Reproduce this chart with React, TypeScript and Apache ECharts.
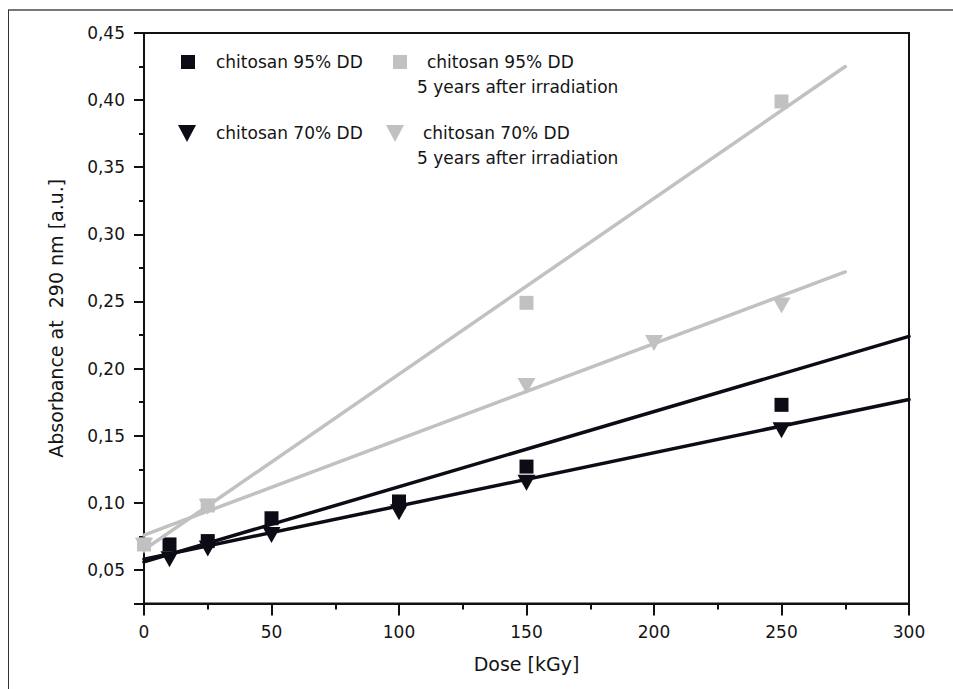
import React, { useEffect, useRef } from "react";
import * as echarts from "echarts";

// Measured points
const doseFresh = [10, 25, 50, 100, 150, 250];
const abs95 = [0.069, 0.0715, 0.0885, 0.101, 0.127, 0.173];
const abs70 = [0.058, 0.066, 0.076, 0.093, 0.115, 0.154];
const doseAged95 = [0, 25, 150, 250];
const abs95aged = [0.069, 0.098, 0.249, 0.399];
const doseAged70 = [0, 25, 150, 200, 250];
const abs70aged = [0.068, 0.097, 0.187, 0.219, 0.247];

// Linear fit end points
const fitDose = [0, 300];
const fit95 = [0.056, 0.224];
const fit70 = [0.058, 0.177];
const fitDoseAged = [0, 275];
const fit95aged = [0.065, 0.425];
const fit70aged = [0.076, 0.272];

const xTicks = [0, 50, 100, 150, 200, 250, 300];

const BLACK = "#0c0c16";
const GRAY = "#c1c2c0";
const TEXT = "#141414";
const FONT = "DejaVu Sans";

const zip = (xs: number[], ys: number[]) => xs.map((x, i) => [x, ys[i]]);

export default function App() {
  const ref = useRef<HTMLDivElement>(null);
  useEffect(() => {
    if (!ref.current) return;
    const chart = echarts.init(ref.current, undefined, { renderer: "svg" });
    const legendText = (x: number, y: number, text: string) => ({
      type: "text",
      x,
      y,
      style: { text, fill: TEXT, font: `17px "${FONT}"`, textVerticalAlign: "middle" },
    });
    const scatterStyle = (color: string) => ({ color, opacity: 1 });
    chart.setOption({
      animation: false,
      backgroundColor: "#ffffff",
      grid: {
        left: 144,
        right: 44,
        top: 33,
        bottom: 85.5,
        show: true,
        borderColor: "#111",
        borderWidth: 2,
        backgroundColor: "transparent",
      },
      xAxis: {
        type: "value",
        min: xTicks[0],
        max: xTicks[xTicks.length - 1],
        interval: 50,
        name: "Dose [kGy]",
        nameLocation: "middle",
        nameGap: 51,
        nameTextStyle: { fontFamily: FONT, fontSize: 19, color: TEXT },
        axisLine: { show: true, lineStyle: { color: "#111", width: 2 } },
        axisTick: { show: true, inside: false, length: 12, lineStyle: { color: "#111", width: 2 } },
        minorTick: { show: true, splitNumber: 2, length: 6, lineStyle: { color: "#111", width: 2 } },
        axisLabel: { margin: 20, fontFamily: FONT, fontSize: 17, color: TEXT },
        splitLine: { show: false },
        minorSplitLine: { show: false },
      },
      yAxis: [
        {
          type: "value",
          min: 0.025,
          max: 0.45,
          splitNumber: 9,
          name: "Absorbance at  290 nm [a.u.]",
          nameLocation: "middle",
          nameGap: 79,
          nameTextStyle: { fontFamily: FONT, fontSize: 19, color: TEXT },
          axisLine: { show: true, lineStyle: { color: "#111", width: 2 } },
          axisTick: { show: true, inside: false, length: 10, lineStyle: { color: "#111", width: 2 } },
          axisLabel: {
            margin: 19,
            fontFamily: FONT,
            fontSize: 17,
            color: TEXT,
            formatter: (v: number) => {
              const k = Math.round(v / 0.05);
              if (Math.abs(v - k * 0.05) > 1e-6) return "";
              return v.toFixed(2).replace(".", ",");
            },
          },
          splitLine: { show: false },
        },
        {
          type: "value",
          min: 0.025,
          max: 0.45,
          interval: 0.025,
          position: "left",
          offset: 0,
          axisLine: { show: false },
          axisTick: { show: true, inside: false, length: 5, lineStyle: { color: "#111", width: 2 } },
          axisLabel: { show: false },
          splitLine: { show: false },
        },
      ],
      series: [
        {
          name: "chitosan 95% DD",
          type: "scatter",
          data: zip(doseFresh, abs95),
          symbol: "rect",
          symbolSize: 14,
          itemStyle: scatterStyle(BLACK),
          z: 3,
        },
        {
          name: "chitosan 95% DD 5 years after irradiation",
          type: "scatter",
          data: zip(doseAged95, abs95aged),
          symbol: "rect",
          symbolSize: 14,
          itemStyle: scatterStyle(GRAY),
          z: 3,
        },
        {
          name: "chitosan 70% DD",
          type: "scatter",
          data: zip(doseFresh, abs70),
          symbol: "triangle",
          symbolRotate: 180,
          symbolSize: [18, 16],
          itemStyle: scatterStyle(BLACK),
          z: 3,
        },
        {
          name: "chitosan 70% DD 5 years after irradiation",
          type: "scatter",
          data: zip(doseAged70, abs70aged),
          symbol: "triangle",
          symbolRotate: 180,
          symbolSize: [18, 16],
          itemStyle: scatterStyle(GRAY),
          z: 3,
        },
        {
          name: "fit 95% DD",
          type: "line",
          data: zip(fitDose, fit95),
          showSymbol: false,
          lineStyle: { color: BLACK, width: 3.5, cap: "round" },
          z: 4,
        },
        {
          name: "fit 70% DD",
          type: "line",
          data: zip(fitDose, fit70),
          showSymbol: false,
          lineStyle: { color: BLACK, width: 3.5, cap: "round" },
          z: 4,
        },
        {
          name: "fit 95% DD aged",
          type: "line",
          data: zip(fitDoseAged, fit95aged),
          showSymbol: false,
          lineStyle: { color: GRAY, width: 3.5, cap: "round" },
          z: 4,
        },
        {
          name: "fit 70% DD aged",
          type: "line",
          data: zip(fitDoseAged, fit70aged),
          showSymbol: false,
          lineStyle: { color: GRAY, width: 3.5, cap: "round" },
          z: 4,
        },
      ],
      graphic: [
        { type: "line", shape: { x1: 8, y1: 10, x2: 953, y2: 10 }, style: { stroke: "#777", lineWidth: 2 } },
        { type: "line", shape: { x1: 8.5, y1: 10, x2: 8.5, y2: 689 }, style: { stroke: "#333", lineWidth: 1 } },
        { type: "rect", shape: { x: 181, y: 55, width: 14, height: 14 }, style: { fill: BLACK } },
        legendText(216, 62, "chitosan 95% DD"),
        { type: "rect", shape: { x: 393, y: 55, width: 14, height: 14 }, style: { fill: GRAY } },
        legendText(427, 62, "chitosan 95% DD"),
        legendText(417, 87, "5 years after irradiation"),
        { type: "polygon", shape: { points: [[178, 125], [196, 125], [187, 142]] }, style: { fill: BLACK } },
        legendText(216, 133, "chitosan 70% DD"),
        { type: "polygon", shape: { points: [[386, 125], [404, 125], [395, 142]] }, style: { fill: GRAY } },
        legendText(423, 133, "chitosan 70% DD"),
        legendText(417, 158, "5 years after irradiation"),
      ],
    });
    return () => chart.dispose();
  }, []);
  return (
    <div
      ref={ref}
      style={{ position: "fixed", left: 0, top: 0, width: 953, height: 689 }}
    />
  );
}
